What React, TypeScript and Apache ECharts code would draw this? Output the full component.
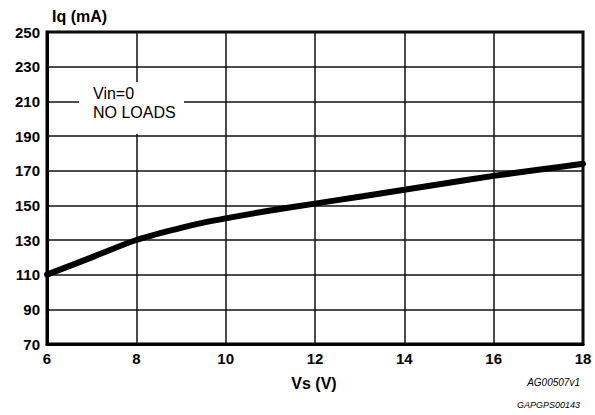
import React, { useEffect, useRef } from "react";
import * as echarts from "echarts";

const vsValues = [6, 7, 8, 9, 9.5, 10, 11, 12, 13, 14, 15, 16, 17, 18];
const iqValues = [110, 120, 130, 137, 140, 142.5, 147, 151, 155, 159, 163, 167, 170.5, 174];
const xTicks = { min: 6, max: 18, interval: 2 };
const yTicks = { min: 70, max: 250, interval: 20 };
const noteLines = ["Vin=0", "NO LOADS"];

const FONT = "'Liberation Sans', Arial, Helvetica, sans-serif";

export default function App() {
  const ref = useRef<HTMLDivElement>(null);
  useEffect(() => {
    if (!ref.current) return;
    const chart = echarts.init(ref.current, null, { renderer: "svg" });
    const data = vsValues.map((v, i) => [v, iqValues[i]]);
    chart.setOption({
      animation: false,
      backgroundColor: "#ffffff",
      grid: {
        left: 47,
        right: 12,
        top: 32,
        bottom: 71,
        show: true,
        borderColor: "#000",
        borderWidth: 3,
        backgroundColor: "transparent",
      },
      xAxis: {
        type: "value",
        min: xTicks.min,
        max: xTicks.max,
        interval: xTicks.interval,
        axisLine: { show: true, lineStyle: { color: "#000", width: 3 } },
        axisTick: { show: false },
        splitLine: { show: true, lineStyle: { color: "#111", width: 1.5 } },
        axisLabel: { color: "#000", fontFamily: FONT, fontWeight: "bold", fontSize: 15, margin: 7 },
      },
      yAxis: {
        type: "value",
        min: yTicks.min,
        max: yTicks.max,
        interval: yTicks.interval,
        name: "Iq (mA)",
        nameLocation: "end",
        nameGap: 8,
        nameTextStyle: {
          color: "#000",
          fontFamily: FONT,
          fontWeight: "bold",
          fontSize: 16,
          align: "left",
          padding: [0, 0, 0, 5],
        },
        axisLine: { show: true, lineStyle: { color: "#000", width: 3 } },
        axisTick: { show: false },
        splitLine: { show: true, lineStyle: { color: "#111", width: 1.5 } },
        axisLabel: { color: "#000", fontFamily: FONT, fontWeight: "bold", fontSize: 15, margin: 7 },
      },
      series: [
        {
          type: "line",
          data,
          smooth: 0.3,
          showSymbol: false,
          lineStyle: { color: "#000", width: 6, cap: "round", join: "round" },
          z: 5,
        },
      ],
      graphic: [
        {
          type: "text",
          x: 314,
          y: 383,
          style: { text: "Vs (V)", fill: "#000", font: `bold 16px ${FONT}`, align: "center", verticalAlign: "middle" },
        },
        {
          type: "rect",
          z: 10,
          shape: { x: 79, y: 82, width: 105, height: 52 },
          style: { fill: "#fff" },
        },
        {
          type: "text",
          z: 11,
          x: 93,
          y: 84,
          style: {
            text: noteLines.join("\n"),
            fill: "#000",
            font: `16px ${FONT}`,
            lineHeight: 19,
          },
        },
        {
          type: "text",
          x: 580,
          y: 382,
          style: { text: "AG00507v1", fill: "#000", font: `italic 10px ${FONT}`, align: "right", verticalAlign: "middle" },
        },
        {
          type: "text",
          x: 580,
          y: 405,
          style: { text: "GAPGPS00143", fill: "#000", font: `italic 9px ${FONT}`, align: "right", verticalAlign: "middle" },
        },
      ],
    });
    return () => chart.dispose();
  }, []);
  return <div ref={ref} style={{ width: 595, height: 415, position: "absolute", left: 0, top: 0 }} />;
}
